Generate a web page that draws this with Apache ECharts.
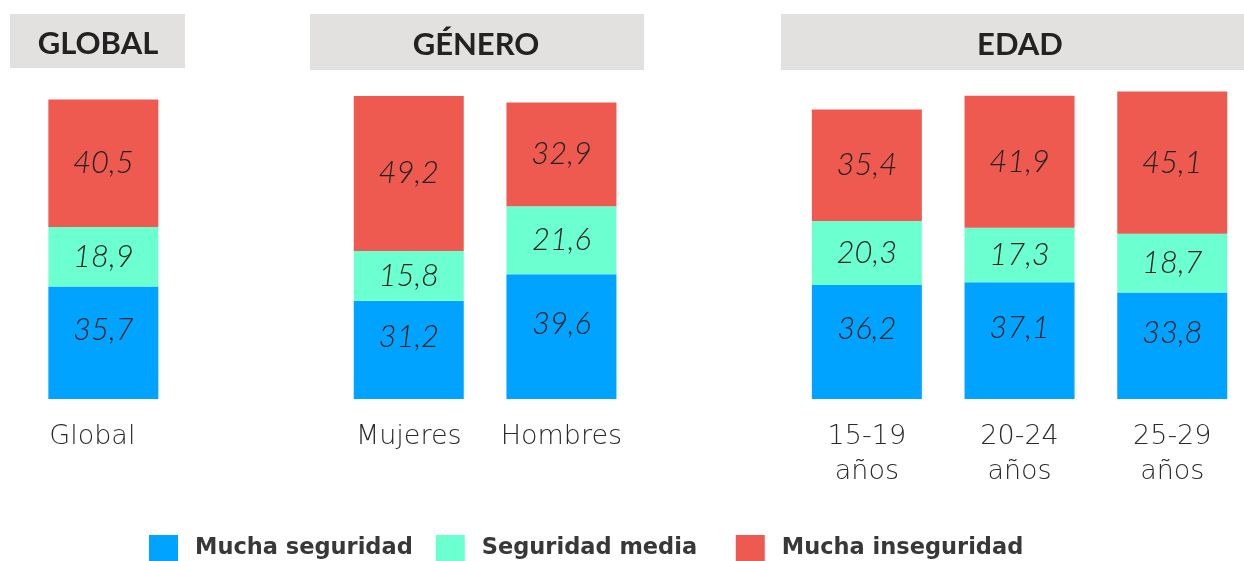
<!DOCTYPE html>
<html>
<head>
<meta charset="utf-8">
<script src="https://cdn.jsdelivr.net/npm/echarts@6/dist/echarts.min.js"></script>
<style>
  html, body { margin: 0; padding: 0; background: #ffffff; }
  #chart { width: 1244px; height: 561px; }
</style>
</head>
<body>
<div id="chart"></div>
<script>
// Grupos y categorías
const globalCats = ['Global'];
const generoCats = ['Mujeres', 'Hombres'];
const edadCats = ['15-19\naños', '20-24\naños', '25-29\naños'];
const groupTitles = ['GLOBAL', 'GÉNERO', 'EDAD'];

// Porcentajes por nivel de seguridad (Global, Mujeres, Hombres, 15-19, 20-24, 25-29)
const muchaSeguridad = [35.7, 31.2, 39.6, 36.2, 37.1, 33.8];
const seguridadMedia = [18.9, 15.8, 21.6, 20.3, 17.3, 18.7];
const muchaInseguridad = [40.5, 49.2, 32.9, 35.4, 41.9, 45.1];

const seriesNames = ['Mucha seguridad', 'Seguridad media', 'Mucha inseguridad'];
const colors = ['#00a3ff', '#6cffd0', '#ee5a50'];

// Una ranura vacía separa cada grupo en el eje de categorías
const slots = [...globalCats, '', ...generoCats, '', ...edadCats];
function spread(values) {
  const out = [];
  let i = 0;
  slots.forEach(s => { out.push(s === '' ? '-' : values[i++]); });
  return out;
}

const fmt = p => (typeof p.value === 'number' ? p.value.toFixed(1).replace('.', ',') : '');

const labelStyle = {
  show: true,
  position: 'inside',
  formatter: fmt,
  fontFamily: 'Lato',
  fontStyle: 'italic',
  fontWeight: 300,
  fontSize: 31,
  color: '#222222'
};

const chart = echarts.init(document.getElementById('chart'), null, { renderer: 'canvas' });

const valuesBySeries = [muchaSeguridad, seguridadMedia, muchaInseguridad];

chart.setOption({
  animation: false,
  backgroundColor: '#ffffff',
  grid: { left: 27, top: 84, width: 1221.6, bottom: 162, outerBoundsMode: 'none', containLabel: false },
  xAxis: {
    type: 'category',
    data: slots,
    axisLine: { show: false },
    axisTick: { show: false },
    axisLabel: {
      interval: 0,
      margin: 20,
      fontFamily: 'DejaVu Sans',
      fontWeight: 200,
      fontSize: 27,
      lineHeight: 35,
      color: '#2a2a2a',
      formatter: v => (v === 'Global' ? '{g|' + v + '}' : v),
      rich: {
        g: { fontFamily: 'DejaVu Sans', fontWeight: 200, fontSize: 27, color: '#2a2a2a', padding: [0, 22, 0, 0] }
      }
    }
  },
  yAxis: {
    type: 'value',
    min: 0,
    max: 100,
    show: false,
    splitLine: { show: false }
  },
  legend: {
    left: 149,
    top: 535,
    padding: 0,
    itemWidth: 29,
    itemHeight: 27,
    itemGap: 23,
    icon: 'rect',
    data: seriesNames,
    // espacio extra tras el segundo elemento de la leyenda
    formatter: name => (name === seriesNames[1] ? name + '  ' : name),
    textStyle: {
      fontFamily: 'DejaVu Sans',
      fontWeight: 700,
      fontSize: 22.5,
      color: '#383838',
      padding: [0, 0, 0, 12]
    }
  },
  series: valuesBySeries.map((vals, k) => ({
    name: seriesNames[k],
    type: 'bar',
    stack: 'total',
    barWidth: 110,
    data: spread(vals),
    itemStyle: { color: colors[k] },
    label: k === 0 ? Object.assign({}, labelStyle, { offset: [0, -13] }) : labelStyle
  })),
  graphic: [
    { type: 'rect', shape: { x: 10, y: 14, width: 175, height: 54 }, style: { fill: '#e2e1df' }, z: 1 },
    { type: 'rect', shape: { x: 310, y: 14, width: 334, height: 56 }, style: { fill: '#e2e1df' }, z: 1 },
    { type: 'rect', shape: { x: 781, y: 14, width: 463, height: 56 }, style: { fill: '#e2e1df' }, z: 1 },
    { type: 'text', x: 98, y: 44, z: 2, style: { text: groupTitles[0], fill: '#222222', font: 'bold 31px Lato', align: 'center', verticalAlign: 'middle' } },
    { type: 'text', x: 476, y: 45, z: 2, style: { text: groupTitles[1], fill: '#222222', font: 'bold 31px Lato', align: 'center', verticalAlign: 'middle' } },
    { type: 'text', x: 1020, y: 45, z: 2, style: { text: groupTitles[2], fill: '#222222', font: 'bold 31px Lato', align: 'center', verticalAlign: 'middle' } }
  ]
});
</script>
</body>
</html>
